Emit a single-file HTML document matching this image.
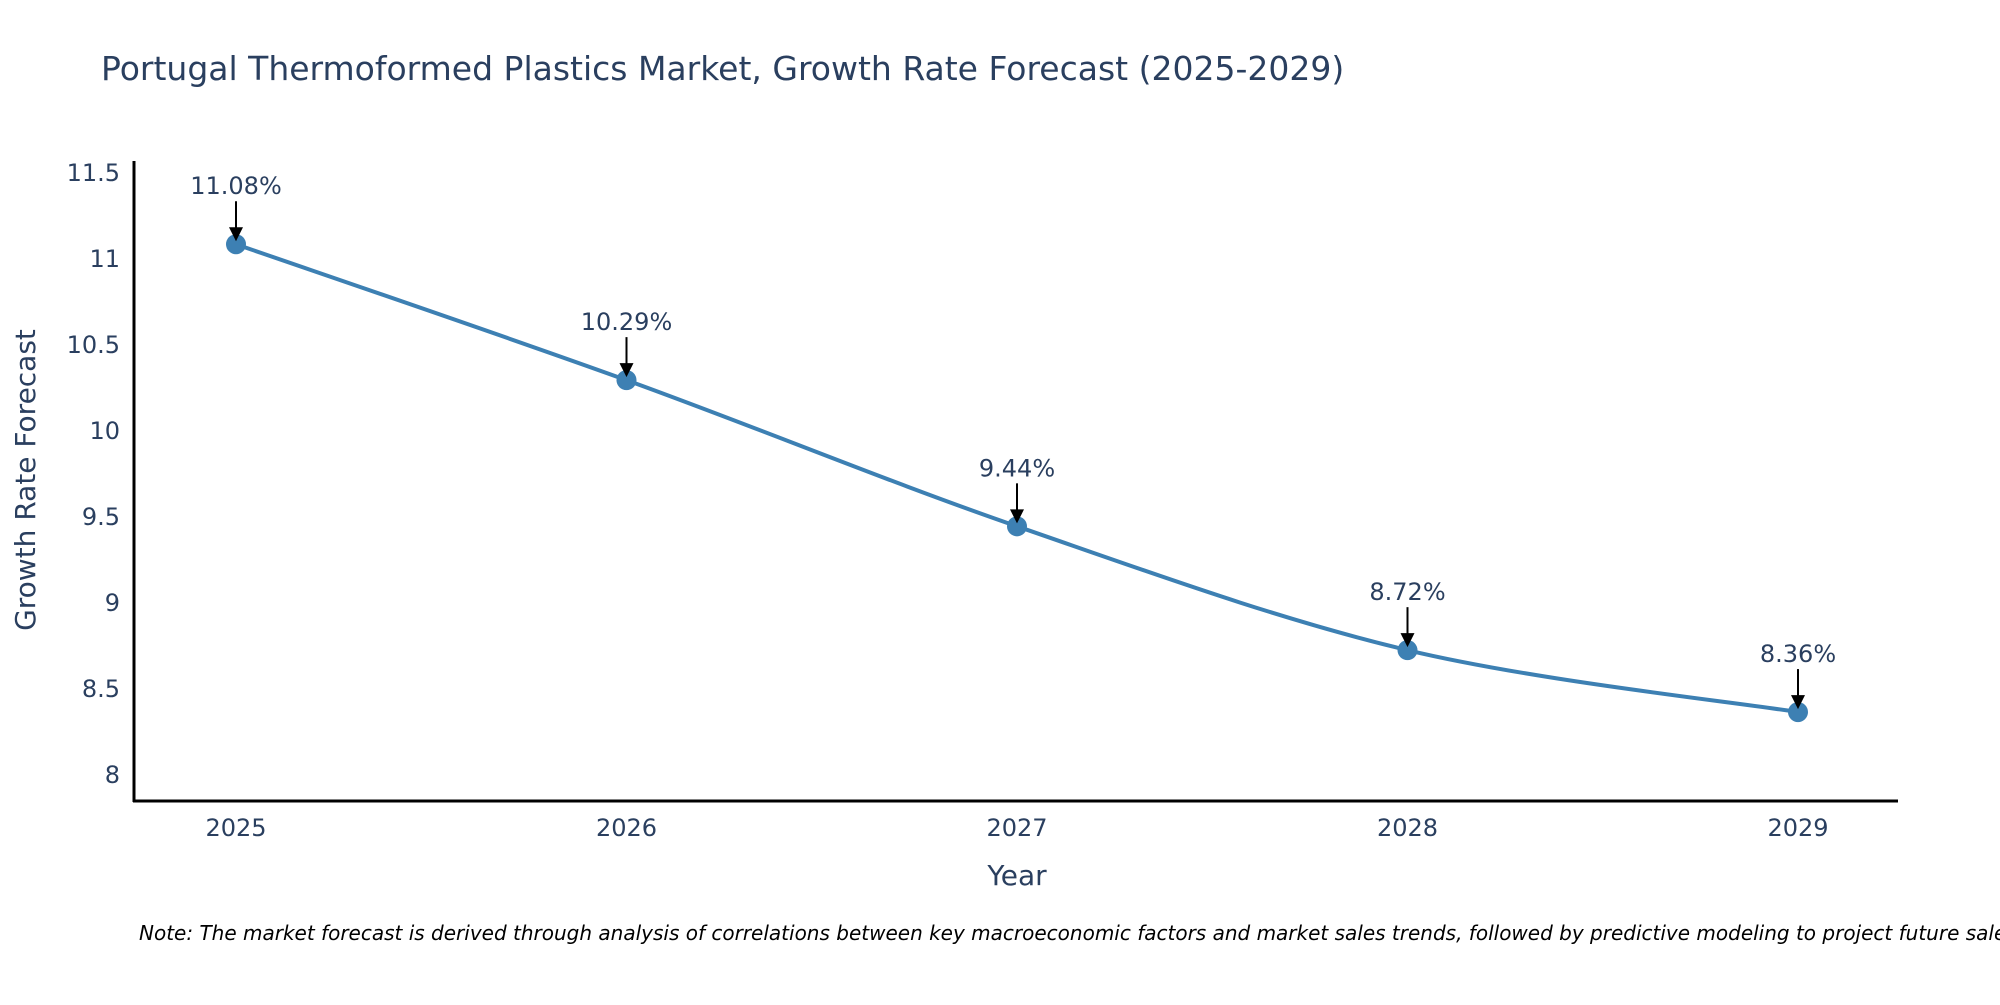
<!DOCTYPE html>
<html><head><meta charset="utf-8"><style>
body{margin:0;background:#fff;}
svg text{font-family:"DejaVu Sans","Liberation Sans",sans-serif;fill:#2a3f5f;}
</style></head><body>
<svg id="chart" width="2000" height="1000" xmlns="http://www.w3.org/2000/svg">
<text x="101" y="80" font-size="33">Portugal Thermoformed Plastics Market, Growth Rate Forecast (2025-2029)</text>
<g id="yticks"></g>
<g id="xticks"></g>
<path id="line" fill="none" stroke="#3d80b3" stroke-width="4"/>
<g id="pts"></g>
<g id="ann"></g>
<line x1="134" y1="161" x2="134" y2="802" stroke="#000" stroke-width="3"/>
<line x1="133" y1="801" x2="1898" y2="801" stroke="#000" stroke-width="3"/>
<text x="1017" y="885" font-size="28" text-anchor="middle">Year</text>
<text transform="translate(35,480) rotate(-90)" font-size="28" text-anchor="middle">Growth Rate Forecast</text>
<text x="139" y="940" font-size="20" font-style="italic" style="fill:#000">Note: The market forecast is derived through analysis of correlations between key macroeconomic factors and market sales trends, followed by predictive modeling to project future sales.</text>
</svg>
<script>
const years=[2025,2026,2027,2028,2029];
const rates=[11.08,10.29,9.44,8.72,8.36];
const labels=["11.08%","10.29%","9.44%","8.72%","8.36%"];
const yTicks=[8,8.5,9,9.5,10,10.5,11,11.5];
const NS="http://www.w3.org/2000/svg";
function xs(v){return 236+(v-2025)*390.5;}
function ys(v){return 774-(v-8)*172;}
function mk(t,a,p){const e=document.createElementNS(NS,t);for(const k in a)e.setAttribute(k,a[k]);p.appendChild(e);return e;}
const yg=document.getElementById('yticks');
yTicks.forEach(v=>{const t=mk('text',{x:120,y:ys(v)+9,'font-size':24,'text-anchor':'end'},yg);t.textContent=String(v);

});
const xg=document.getElementById('xticks');
years.forEach(v=>{const t=mk('text',{x:xs(v),y:836,'font-size':24,'text-anchor':'middle'},xg);t.textContent=String(v);

});
const P=years.map((y,i)=>[xs(y),ys(rates[i])]);
let d='M'+P[0][0]+','+P[0][1];
for(let i=0;i<P.length-1;i++){const p0=P[i-1]||P[i],p1=P[i],p2=P[i+1],p3=P[i+2]||P[i+1];const s=6;
d+=' C'+(p1[0]+(p2[0]-p0[0])/s)+','+(p1[1]+(p2[1]-p0[1])/s)+' '+(p2[0]-(p3[0]-p1[0])/s)+','+(p2[1]-(p3[1]-p1[1])/s)+' '+p2[0]+','+p2[1];}
document.getElementById('line').setAttribute('d',d);
const pg=document.getElementById('pts'),ag=document.getElementById('ann');
P.forEach((p,i)=>{const c=mk('circle',{cx:p[0],cy:p[1],r:10,fill:'#3d80b3'},pg);


const l=mk('line',{x1:p[0],y1:p[1]-43,x2:p[0],y2:p[1]-14,stroke:'#000','stroke-width':2},ag);


const h=mk('path',{d:'M'+(p[0]-7)+','+(p[1]-17)+' L'+(p[0]+7)+','+(p[1]-17)+' L'+p[0]+','+(p[1]-3)+'Z',fill:'#000'},ag);


const t=mk('text',{x:p[0],y:p[1]-50,'font-size':24,'text-anchor':'middle'},ag);t.textContent=labels[i];

});
</script>
</body></html>
